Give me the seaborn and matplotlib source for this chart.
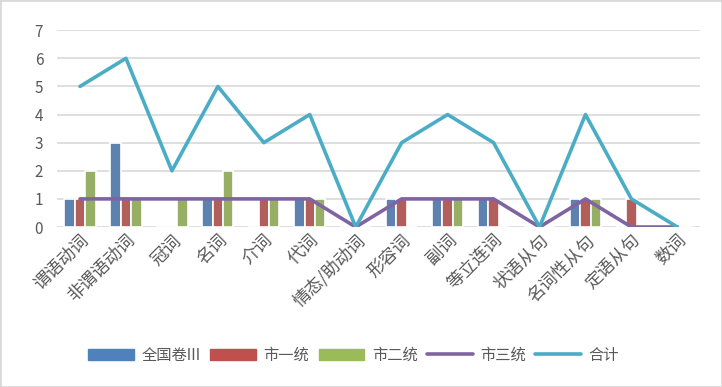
import numpy as np
import pandas as pd
import matplotlib
matplotlib.use('Agg')
import matplotlib.pyplot as plt
import seaborn as sns
from matplotlib.patches import Patch, Rectangle
from matplotlib.lines import Line2D

categories = ['谓语动词', '非谓语动词', '冠词', '名词', '介词', '代词', '情态/助动词',
              '形容词', '副词', '等立连词', '状语从句', '名词性从句', '定语从句', '数词']
quanguo3 = [1, 3, 0, 1, 0, 1, 0, 1, 1, 1, 0, 1, 0, 0]
shi1 = [1, 1, 0, 1, 1, 1, 0, 1, 1, 1, 0, 1, 1, 0]
shi2 = [2, 1, 1, 2, 1, 1, 0, 0, 1, 0, 0, 1, 0, 0]
shi3 = [1, 1, 1, 1, 1, 1, 0, 1, 1, 1, 0, 1, 0, 0]
total = [5, 6, 2, 5, 3, 4, 0, 3, 4, 3, 0, 4, 1, 0]

bar_names = ['全国卷III', '市一统', '市二统']
bar_colors = ['#4F81BD', '#C0504D', '#9BBB59']

sns.set_style('white')
plt.rcParams['font.family'] = ['Noto Sans CJK SC', 'DejaVu Sans']

df = pd.DataFrame({'cat': categories * 3,
                   'val': quanguo3 + shi1 + shi2,
                   'series': [n for n in bar_names for _ in categories]})

fig = plt.figure(figsize=(7.22, 3.87), dpi=100)
ax = fig.add_axes([0.079, 0.4134, 0.891, 0.5086])

sns.barplot(data=df, x='cat', y='val', hue='series', palette=bar_colors,
            width=0.68, edgecolor='white', linewidth=1.2, ax=ax, legend=False)

pos = np.arange(len(categories))
sns.lineplot(x=pos, y=shi3, color='#8064A2', linewidth=2.6, ax=ax)
sns.lineplot(x=pos, y=total, color='#4BACC6', linewidth=2.6, ax=ax)

ax.set_ylim(0, 7)
ax.set_xlim(-0.5, len(categories) - 0.5)
ax.set_yticks(range(8))
ax.yaxis.grid(True, color='#D9D9D9', linewidth=1.2)
ax.set_axisbelow(True)
for s in ax.spines.values():
    s.set_visible(False)
ax.set_xlabel('')
ax.set_ylabel('')
ax.tick_params(axis='y', labelsize=11, colors='#595959', length=0, pad=10)
ax.tick_params(axis='x', length=0, pad=3)
ax.set_xticks(pos)
ax.set_xticklabels(categories, rotation=45, ha='right', rotation_mode='anchor',
                   fontsize=12.5, color='#595959')

handles = [Patch(color=c) for c in bar_colors] + [
    Line2D([], [], color='#8064A2', linewidth=2.6),
    Line2D([], [], color='#4BACC6', linewidth=2.6)]
fig.legend(handles, bar_names + ['市三统', '合计'], loc='center', ncol=5,
           bbox_to_anchor=(0.49, 0.082), frameon=False, fontsize=11,
           handlelength=3.0, handleheight=0.8, columnspacing=0.6,
           handletextpad=0.5, labelcolor='#595959')

fig.patches.append(Rectangle((0, 0), 1, 1, transform=fig.transFigure,
                             fill=False, edgecolor='#D9D9D9', linewidth=2))
fig.savefig('out.png', dpi=100)
